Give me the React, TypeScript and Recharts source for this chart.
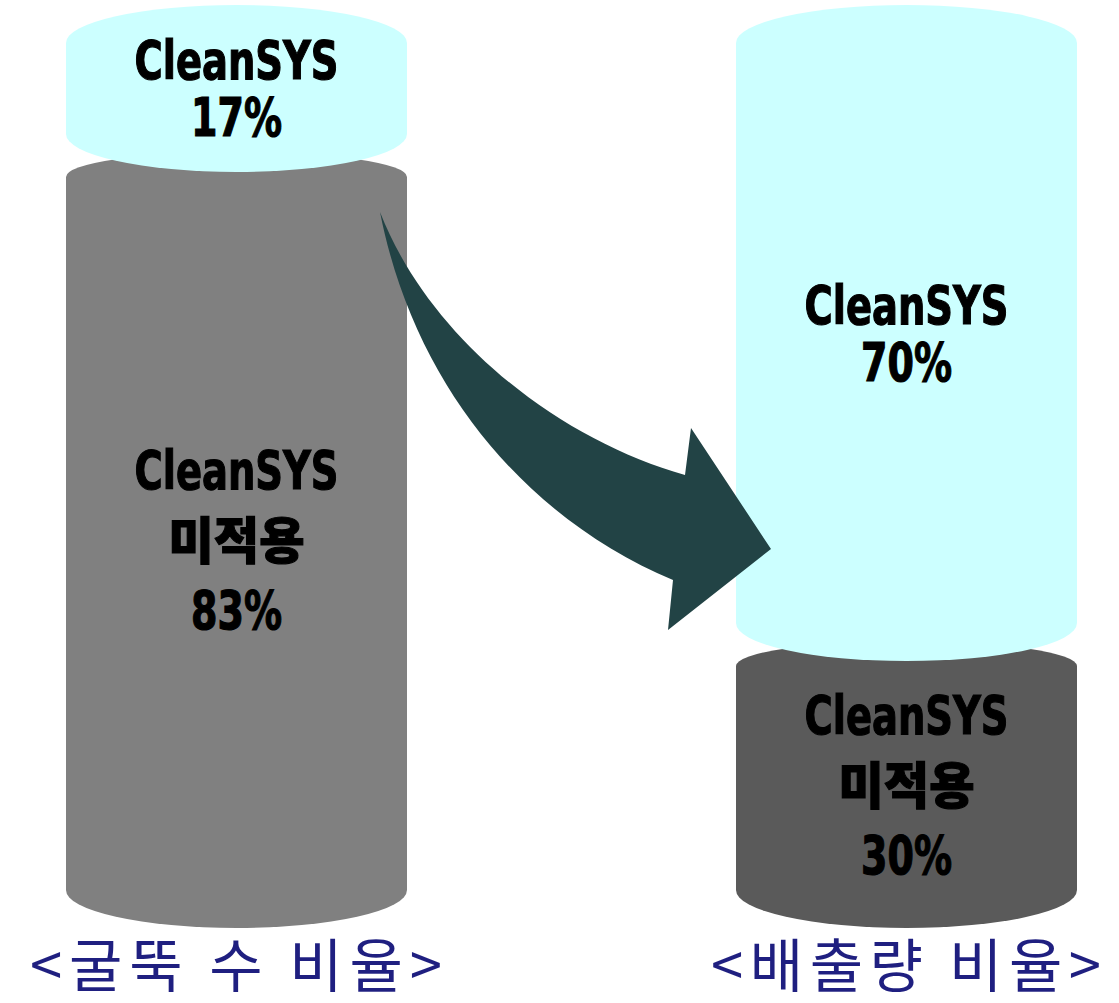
import { Bar, BarChart, LabelList, XAxis, YAxis } from "recharts";

const categories = ["<굴뚝 수 비율>", "<배출량 비율>"];
const notAppliedShare = [83, 30];
const appliedShare = [17, 70];
const notAppliedColors = ["#808080", "#5a5a5a"];
const categoryLabelWidths = [412, 390];
const seriesName = "CleanSYS";
const notAppliedName = "미적용";

const data = categories.map((name, i) => ({
  name,
  notApplied: notAppliedShare[i],
  applied: appliedShare[i],
}));

const SHIFT = 99; // chart is wider than the page so the two bands land where the cylinders sit
const CAP = 38;
const OVERLAP = 10;

function cylinderPath(x: number, top: number, w: number, bottom: number, ryTop: number, ryBottom: number) {
  const r = w / 2;
  return `M${x},${top + ryTop} L${x},${bottom - ryBottom} A${r},${ryBottom} 0 0 0 ${x + w},${bottom - ryBottom} L${x + w},${top + ryTop} A${r},${ryTop} 0 0 0 ${x},${top + ryTop} Z`;
}

function GrayShape(props: any) {
  const { x, y, width, height, index } = props;
  return <path d={cylinderPath(x, y - OVERLAP, width, y + height, 25, CAP)} fill={notAppliedColors[index]} />;
}

function CyanShape(props: any) {
  const { x, y, width, height } = props;
  return <path d={cylinderPath(x, y, width, y + height + OVERLAP, CAP, CAP)} fill="#ccffff" />;
}

const textWidths: Record<string, number> = { [seriesName]: 204, [notAppliedName]: 136 };

function labelFor(lines: string[], spacing: number, extraTop: number, extraBottom: number) {
  return (props: any) => {
    const { x, y, width, height } = props;
    const top = y - extraTop;
    const bottom = y + height + extraBottom;
    const center = (top + bottom) / 2;
    const cap = 39;
    const blockH = cap + spacing * (lines.length - 1);
    const first = center - blockH / 2 + cap;
    return (
      <g>
        {lines.map((l, i) => {
          const txt = l === "%" ? `${props.value}%` : l;
          const isKo = txt === notAppliedName;
          return (
            <text
              key={i}
              x={x + width / 2}
              y={first + i * spacing}
              textAnchor="middle"
              fontSize={isKo ? 50 : 54}
              fontWeight={900}
              fontFamily={isKo ? "'Noto Sans CJK KR', sans-serif" : "'DejaVu Sans Condensed', 'DejaVu Sans', sans-serif"}
              fill="#000"
              stroke="#000"
              strokeWidth={1.2}
              textLength={textWidths[txt] ?? 91}
              lengthAdjust="spacingAndGlyphs"
            >
              {txt}
            </text>
          );
        })}
      </g>
    );
  };
}

function CategoryTick(props: any) {
  const { x, y, payload, index } = props;
  return (
    <text
      x={x}
      y={y + 51}
      textAnchor="middle"
      fontSize={58}
      fontFamily="'Noto Sans CJK KR', sans-serif"
      fill="#1f1f80"
      textLength={categoryLabelWidths[index]}
      lengthAdjust="spacing"
    >
      {payload.value}
    </text>
  );
}

export default function App() {
  return (
    <div style={{ width: 1119, height: 1003, position: "relative", overflow: "hidden", background: "#fff" }}>
      <style>{"body{margin:0}"}</style>
      <div style={{ position: "absolute", left: -SHIFT, top: 0 }}>
        <BarChart width={1340} height={1003} data={data} margin={{ top: 5, right: 0, bottom: 0, left: 0 }}>
          <XAxis dataKey="name" axisLine={false} tickLine={false} height={75} tick={<CategoryTick />} interval={0} />
          <YAxis hide domain={[0, 100]} />
          <Bar dataKey="notApplied" stackId="a" barSize={341} shape={<GrayShape />} isAnimationActive={false}>
            <LabelList dataKey="notApplied" content={labelFor([seriesName, notAppliedName, "%"], 70, OVERLAP, 0)} />
          </Bar>
          <Bar dataKey="applied" stackId="a" barSize={341} shape={<CyanShape />} isAnimationActive={false}>
            <LabelList dataKey="applied" content={labelFor([seriesName, "%"], 57, 0, OVERLAP)} />
          </Bar>
        </BarChart>
      </div>
      <svg width={1119} height={1003} style={{ position: "absolute", left: 0, top: 0, pointerEvents: "none" }}>
        <path
          d="M380,212 C415,390 530,520 673,580 L668,630 L771,549 L691,428 L685,475 C560,440 430,340 380,212 Z"
          fill="#224345"
        />
      </svg>
    </div>
  );
}
